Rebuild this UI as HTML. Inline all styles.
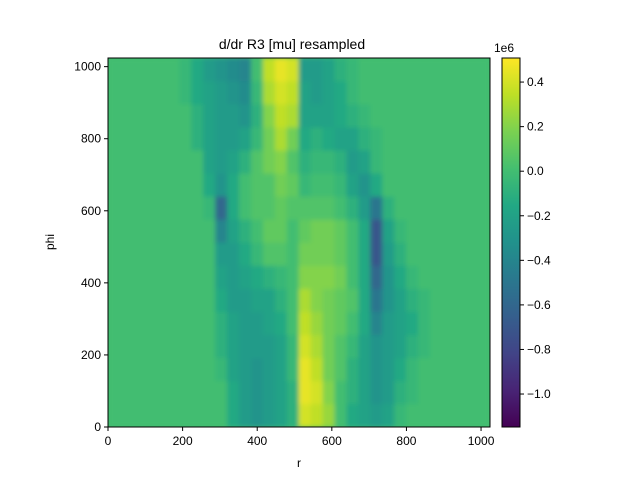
<!DOCTYPE html>
<html><head><meta charset="utf-8"><style>
body{margin:0;background:#fff;}
svg text{font-family:"Liberation Sans",sans-serif;font-size:12px;fill:#000;}
</style></head><body>
<svg id="chart" width="640" height="480" xmlns="http://www.w3.org/2000/svg">
<defs>
<clipPath id="pc"><rect x="108" y="58" width="382" height="369"/></clipPath>
<filter id="bl" x="0" y="0" width="1" height="1"><feGaussianBlur stdDeviation="2.5"/></filter>
<linearGradient id="cbg" x1="0" y1="1" x2="0" y2="0">
<stop offset="0" stop-color="#440154"/><stop offset="0.1" stop-color="#482475"/><stop offset="0.2" stop-color="#414487"/><stop offset="0.3" stop-color="#355f8d"/><stop offset="0.4" stop-color="#2a788e"/><stop offset="0.5" stop-color="#21918c"/><stop offset="0.6" stop-color="#22a884"/><stop offset="0.7" stop-color="#44bf70"/><stop offset="0.8" stop-color="#7ad151"/><stop offset="0.9" stop-color="#bddf26"/><stop offset="1" stop-color="#fde725"/>
</linearGradient>
</defs>
<text x="292" y="49" text-anchor="middle" style="font-size:14px">d/dr R3 [mu] resampled</text>
<rect x="108" y="58" width="382" height="369" fill="#45be71"/>
<g id="cells" clip-path="url(#pc)"><g id="cellsInner" filter="url(#bl)"></g></g>
<rect x="108" y="58" width="382" height="369" fill="none" stroke="#000" stroke-width="1"/>
<g id="axes"></g>
<text x="299" y="467" text-anchor="middle">r</text>
<text x="54" y="242" text-anchor="middle" transform="rotate(-90 54 242)">phi</text>
<rect x="502" y="58" width="18" height="369" fill="url(#cbg)" stroke="#000" stroke-width="1"/>
<text x="494" y="52">1e6</text>
</svg>
<script>
const rBins = [0,32,64,96,128,160,192,224,256,288,320,352,384,416,448,480,512,544,576,608,640,672,704,736,768,800,832,864,896,928,960,992];
const phiBins = [0,64,128,192,256,320,384,448,512,576,640,704,768,832,896,960];
const xTicks = [0,200,400,600,800,1000];
const yTicks = [0,200,400,600,800,1000];
const cbTicks = [0.4,0.2,0.0,-0.2,-0.4,-0.6,-0.8,-1.0];
const vmin = -1.148, vmax = 0.508;
const row0 = [0,0,0,0,0,0,0,0,0,0,-.15,-.25,-.3,-.25,-.2,-.1,.4,.35,.25,0,-.15,-.2,-.25,-.2,-.05,0,0,0,0,0,0,0];
const row1 = [0,0,0,0,0,0,0,0,0,0,-.15,-.25,-.3,-.25,-.2,-.1,.45,.4,.2,0,-.1,-.2,-.3,-.25,-.1,-.05,0,0,0,0,0,0];
const row2 = [0,0,0,0,0,0,0,0,0,-.05,-.2,-.25,-.3,-.25,-.2,-.05,.45,.35,.15,.05,-.1,-.2,-.3,-.25,-.15,-.05,0,0,0,0,0,0];
const row3 = [0,0,0,0,0,0,0,0,0,-.1,-.2,-.25,-.25,-.25,-.2,-.05,.4,.3,.15,.05,-.05,-.2,-.3,-.25,-.2,-.1,-.05,0,0,0,0,0];
const row4 = [0,0,0,0,0,0,0,0,0,-.1,-.2,-.25,-.25,-.2,-.15,0,.35,.25,.15,.1,0,-.15,-.4,-.25,-.2,-.15,-.05,0,0,0,0,0];
const row5 = [0,0,0,0,0,0,0,0,0,-.15,-.25,-.25,-.2,-.2,-.1,0,.3,.2,.15,.1,.05,-.15,-.5,-.3,-.2,-.1,-.05,0,0,0,0,0];
const row6 = [0,0,0,0,0,0,0,0,0,-.2,-.25,-.2,-.15,-.1,-.05,0,.2,.2,.2,.15,0,-.15,-.6,-.3,-.15,-.05,0,0,0,0,0,0];
const row7 = [0,0,0,0,0,0,0,0,0,-.25,-.25,-.15,-.05,.05,.05,0,.15,.15,.15,.1,0,-.15,-.7,-.25,-.1,0,0,0,0,0,0,0];
const row8 = [0,0,0,0,0,0,0,0,0,-.4,-.2,-.1,0,.1,.1,0,.1,.15,.15,.1,0,-.15,-.7,-.2,-.05,0,0,0,0,0,0,0];
const row9 = [0,0,0,0,0,0,0,0,-.05,-.6,-.15,0,.05,.05,.1,.05,.05,.05,.05,0,-.1,-.25,-.5,-.1,0,0,0,0,0,0,0,0];
const row10 = [0,0,0,0,0,0,0,0,-.15,-.3,-.15,0,.05,.05,.15,.1,-.05,0,0,-.05,-.2,-.3,-.15,0,0,0,0,0,0,0,0,0];
const row11 = [0,0,0,0,0,0,0,0,-.2,-.25,-.2,-.1,.05,.15,.2,.05,-.1,-.05,-.05,-.1,-.25,-.2,-.05,0,0,0,0,0,0,0,0,0];
const row12 = [0,0,0,0,0,0,0,-.1,-.2,-.25,-.25,-.2,-.05,.15,.3,.15,-.15,-.1,-.15,-.2,-.2,-.1,-.05,0,0,0,0,0,0,0,0,0];
const row13 = [0,0,0,0,0,0,0,-.1,-.2,-.25,-.25,-.3,-.1,.2,.35,.3,-.2,-.2,-.2,-.15,-.1,-.05,0,0,0,0,0,0,0,0,0,0];
const row14 = [0,0,0,0,0,0,-.05,-.15,-.2,-.25,-.3,-.35,-.05,.3,.4,.35,-.2,-.25,-.2,-.15,-.05,0,0,0,0,0,0,0,0,0,0,0];
const row15 = [0,0,0,0,0,0,-.05,-.15,-.25,-.3,-.35,-.4,0,.35,.45,.4,-.25,-.25,-.2,-.1,-.05,0,0,0,0,0,0,0,0,0,0,0];
const rows = [row0,row1,row2,row3,row4,row5,row6,row7,row8,row9,row10,row11,row12,row13,row14,row15];

const X0=108,X1=490,Y0=427,Y1=58;
const xs = v => X0 + v/1024*(X1-X0);
const ys = v => Y0 - v/1024*(Y0-Y1);
const cs = v => 427 - (v - vmin)/(vmax - vmin)*369;
const stops=["#440154","#482475","#414487","#355f8d","#2a788e","#21918c","#22a884","#44bf70","#7ad151","#bddf26","#fde725"];
function hex(h){return [1,3,5].map(i=>parseInt(h.substr(i,2),16));}
function viridis(v){
  let t=Math.max(0,Math.min(1,(v-vmin)/(vmax-vmin)))*10;
  let i=Math.min(9,Math.floor(t)),f=t-i;
  let a=hex(stops[i]),b=hex(stops[i+1]);
  return "rgb("+a.map((c,k)=>Math.round(c+(b[k]-c)*f)).join(",")+")";
}
const NS="http://www.w3.org/2000/svg";
const inner=document.getElementById("cellsInner");
rows.forEach((row,ri)=>{
  row.forEach((v,ci)=>{
    const r=document.createElementNS(NS,"rect");
    const x=xs(rBins[ci]), y=ys(phiBins[ri]+64);
    r.setAttribute("x",x-0.3);r.setAttribute("y",y-0.3);
    r.setAttribute("width",xs(rBins[ci]+32)-x+0.6);
    r.setAttribute("height",ys(phiBins[ri])-y+0.6);
    r.setAttribute("fill",viridis(v));
    
    
    inner.appendChild(r);
  });
});
const ax=document.getElementById("axes");
function line(x1,y1,x2,y2){const l=document.createElementNS(NS,"line");l.setAttribute("x1",x1);l.setAttribute("y1",y1);l.setAttribute("x2",x2);l.setAttribute("y2",y2);l.setAttribute("stroke","#000");ax.appendChild(l);return l;}
function text(x,y,s,anchor){const t=document.createElementNS(NS,"text");t.setAttribute("x",x);t.setAttribute("y",y);t.setAttribute("text-anchor",anchor);t.textContent=s;ax.appendChild(t);return t;}
xTicks.forEach(v=>{
  const x=xs(v);
  const l=line(x,427,x,431);
  
  
  const t=text(x,445,String(v),"middle");
  
  
});
yTicks.forEach(v=>{
  const y=ys(v);
  const l=line(104,y,108,y);
  
  
  const t=text(101,y+4,String(v),"end");
  
  
});
cbTicks.forEach(v=>{
  const y=cs(v);
  const l=line(520,y,524,y);
  
  
  const t=text(527,y+4,(v<0?"\u2212":"")+Math.abs(v).toFixed(1),"start");
  
  
});
</script>
</body></html>
